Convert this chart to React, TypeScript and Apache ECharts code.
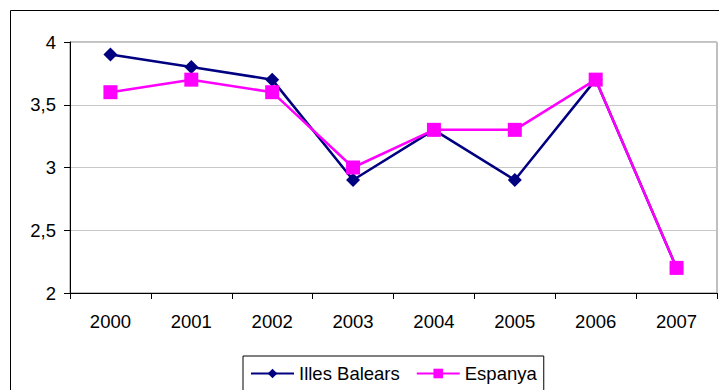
import React, { useEffect, useRef } from "react";
import * as echarts from "echarts";

const years = ["2000", "2001", "2002", "2003", "2004", "2005", "2006", "2007"];
const illesBalears = [3.9, 3.8, 3.7, 2.9, 3.3, 2.9, 3.7, 2.2];
const espanya = [3.6, 3.7, 3.6, 3.0, 3.3, 3.3, 3.7, 2.2];
const yMin = 2;
const yMax = 4;
const yInterval = 0.5;

export default function App() {
  const ref = useRef<HTMLDivElement>(null);
  useEffect(() => {
    document.body.style.margin = "0";
    const chart = echarts.init(ref.current!, null, { renderer: "svg" });
    const font = "Arial, 'Liberation Sans', sans-serif";
    chart.setOption({
      animation: false,
      backgroundColor: "#fff",
      textStyle: { fontFamily: font, color: "#000" },
      graphic: [
        {
          type: "rect",
          shape: { x: 10.5, y: 10.5, width: 730, height: 420 },
          style: { fill: "none", stroke: "#000", lineWidth: 1 },
          silent: true,
        },
      ],
      grid: {
        left: 70,
        top: 42,
        right: 2,
        bottom: 97,
        show: true,
        borderColor: "#808080",
        borderWidth: 1,
        backgroundColor: "transparent",
      },
      legend: {
        left: 243,
        top: 356,
        padding: [8, 7, 20, 7],
        borderColor: "#000",
        borderWidth: 1,
        itemWidth: 43,
        itemHeight: 12,
        itemGap: 16,
        textStyle: { fontFamily: font, fontSize: 18.5, color: "#000", padding: [0, 0, 0, 0] },
        data: ["Illes Balears", "Espanya"],
      },
      xAxis: {
        type: "category",
        data: years,
        boundaryGap: true,
        axisLine: { lineStyle: { color: "#000", width: 1 } },
        axisTick: { show: true, length: 6, inside: false, lineStyle: { color: "#000" } },
        axisLabel: { fontFamily: font, fontSize: 18.5, color: "#000", margin: 19 },
        splitLine: { show: false },
      },
      yAxis: {
        type: "value",
        min: yMin,
        max: yMax,
        interval: yInterval,
        axisLine: { show: true, lineStyle: { color: "#000", width: 1 } },
        axisTick: { show: true, length: 6, lineStyle: { color: "#000" } },
        axisLabel: {
          fontFamily: font,
          fontSize: 18.5,
          color: "#000",
          margin: 14,
          formatter: (v: number) => String(v).replace(".", ","),
        },
        splitLine: { show: true, lineStyle: { color: "#c8c8c8", width: 1 } },
      },
      series: [
        {
          name: "Illes Balears",
          type: "line",
          data: illesBalears,
          symbol: "diamond",
          symbolSize: 14,
          lineStyle: { color: "#000080", width: 2.5 },
          itemStyle: { color: "#000080" },
        },
        {
          name: "Espanya",
          type: "line",
          data: espanya,
          symbol: "rect",
          symbolSize: 14,
          lineStyle: { color: "#ff00ff", width: 2.5 },
          itemStyle: { color: "#ff00ff" },
        },
      ],
    });
    return () => chart.dispose();
  }, []);
  return <div ref={ref} style={{ width: 719, height: 390 }} />;
}
